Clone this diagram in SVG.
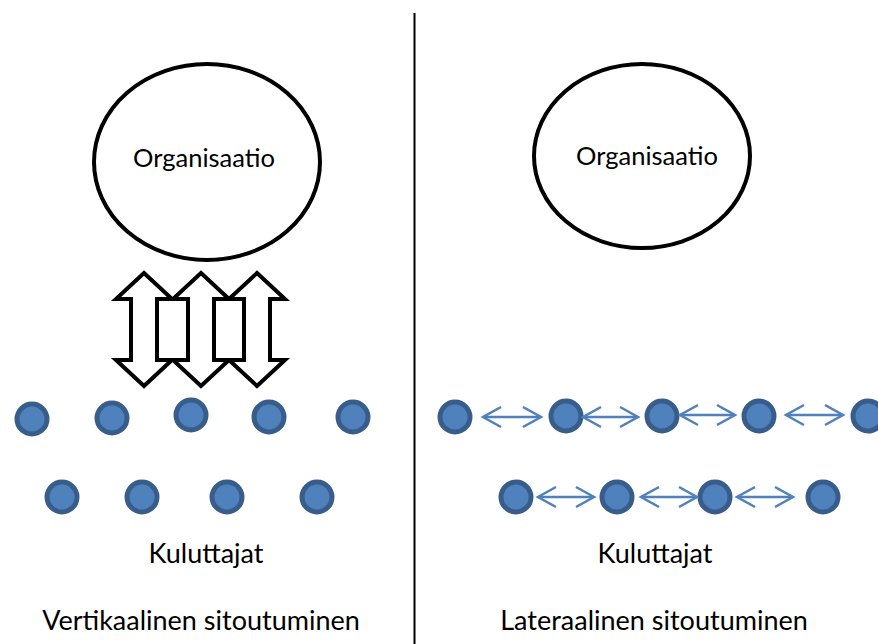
<svg xmlns="http://www.w3.org/2000/svg" width="878" height="644" viewBox="0 0 878 644">
<style>
.org{fill:#fff;stroke:#000;stroke-width:4}
.dot{fill:#4F81BD;stroke:#385D8A;stroke-width:5}
.lbl{font-family:Lato,"Liberation Sans",sans-serif;font-size:27px;fill:#000;text-anchor:middle}
.ot{font-size:25.5px}
.big{fill:#fff;stroke:#000;stroke-width:4;stroke-linejoin:miter}
.link{fill:none;stroke:#4F81BD;stroke-width:2.5;marker-start:url(#chev);marker-end:url(#chev)}
</style>
<defs>
<marker id="chev" markerUnits="userSpaceOnUse" viewBox="-20 -12 22 24" refX="0" refY="0" markerWidth="22" markerHeight="24" orient="auto-start-reverse" overflow="visible">
<path d="M-18,-10 L0,0 L-18,10" fill="none" stroke="#4F81BD" stroke-width="2.5"/>
</marker>
</defs>
<rect width="878" height="644" fill="#fff"/>
<line id="divider" x1="414.5" y1="13" x2="414.5" y2="644" stroke="#000" stroke-width="2"/>

<g id="org-left"><ellipse class="org" cx="207" cy="162" rx="113" ry="98"/><text class="lbl ot" x="204" y="167">Organisaatio</text></g>
<g id="org-right"><ellipse class="org" cx="642" cy="156" rx="108" ry="92"/><text class="lbl ot" x="647" y="165">Organisaatio</text></g>

<g id="consumers-left">
<circle class="dot" cx="32" cy="419" r="15"/>
<circle class="dot" cx="112" cy="418" r="15"/>
<circle class="dot" cx="191" cy="415" r="15"/>
<circle class="dot" cx="269" cy="417" r="15"/>
<circle class="dot" cx="353" cy="417" r="15"/>
<circle class="dot" cx="62" cy="497" r="15"/>
<circle class="dot" cx="142" cy="497" r="15"/>
<circle class="dot" cx="227" cy="497" r="15"/>
<circle class="dot" cx="317" cy="497" r="15"/>
</g>
<g id="consumers-right">
<circle class="dot" cx="455" cy="417" r="15"/>
<circle class="dot" cx="566" cy="416" r="15"/>
<circle class="dot" cx="662" cy="416" r="15"/>
<circle class="dot" cx="759" cy="416" r="15"/>
<circle class="dot" cx="868" cy="416" r="15"/>
<circle class="dot" cx="516" cy="497" r="15"/>
<circle class="dot" cx="617" cy="497" r="15"/>
<circle class="dot" cx="715" cy="497" r="15"/>
<circle class="dot" cx="823" cy="497" r="15"/>
</g>

<g id="connectors">
<polygon class="big" points="144,273 172,299 157,299 157,360 172,360 144,386 116,360 131,360 131,299 116,299"/>
<polygon class="big" points="201,273 229,299 214,299 214,360 229,360 201,386 173,360 188,360 188,299 173,299"/>
<polygon class="big" points="257,273 285,299 270,299 270,360 285,360 257,386 229,360 244,360 244,299 229,299"/>
<line class="link" x1="483" y1="417" x2="541" y2="417"/>
<line class="link" x1="583" y1="417" x2="638" y2="417"/>
<line class="link" x1="680" y1="415" x2="735" y2="415"/>
<line class="link" x1="786" y1="415" x2="843" y2="415"/>
<line class="link" x1="538" y1="497" x2="594" y2="497"/>
<line class="link" x1="641" y1="497" x2="697" y2="497"/>
<line class="link" x1="737" y1="497" x2="793" y2="497"/>
</g>

<g id="labels">
<text class="lbl" x="206" y="563">Kuluttajat</text>
<text class="lbl" x="201" y="630">Vertikaalinen sitoutuminen</text>
<text class="lbl" x="655" y="563">Kuluttajat</text>
<text class="lbl" x="654" y="630">Lateraalinen sitoutuminen</text>
</g>
</svg>
